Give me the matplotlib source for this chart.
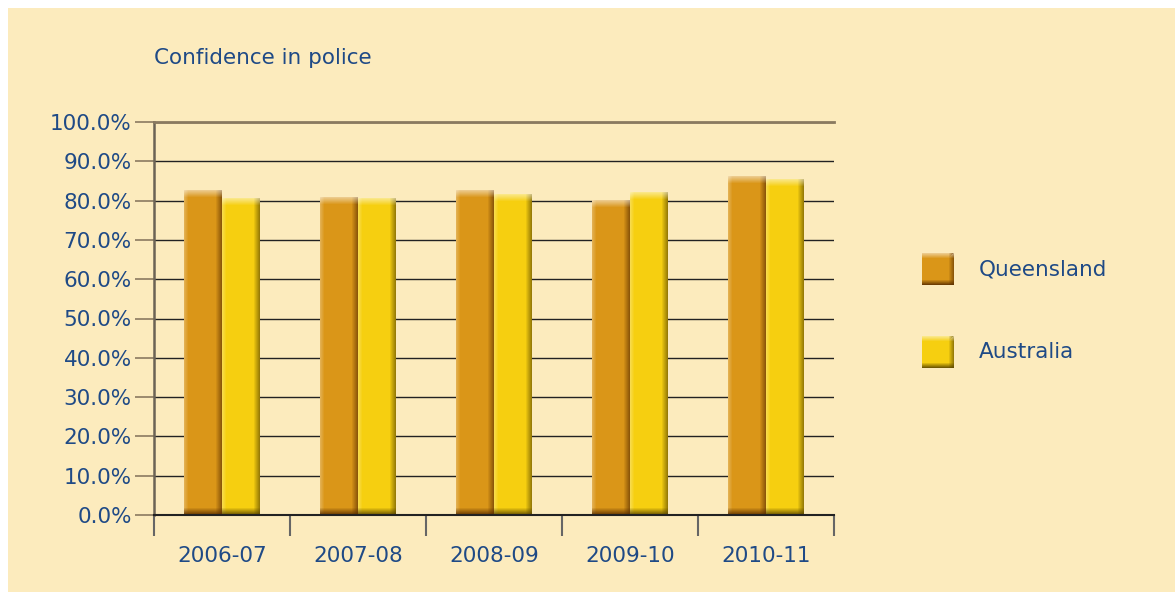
import numpy as np
import matplotlib.pyplot as plt
from matplotlib.patches import Rectangle

years = ["2006-07", "2007-08", "2008-09", "2009-10", "2010-11"]
queensland = [82.7, 80.9, 82.7, 80.2, 86.3]
australia = [80.6, 80.7, 81.8, 82.3, 85.6]

bg = "#FCEBBD"
text_col = "#1F4A86"
q_col = "#DA9618"
a_col = "#F6CF10"
q_dark = "#5A2E00"
a_dark = "#5A4600"

plt.rcParams['font.family'] = ['DejaVu Sans']

fig = plt.figure(figsize=(11.75, 5.92), dpi=100, facecolor="white")
fig.patches.append(Rectangle((8 / 1175, 0), 1, 1 - 8 / 592, transform=fig.transFigure,
                             facecolor=bg, edgecolor="none", zorder=-10))
ax = fig.add_axes([154 / 1175, 1 - 515 / 592, 680 / 1175, 393 / 592])
ax.set_facecolor(bg)

x = np.arange(len(years))
w = 38 / 136
px = 1 / 136          # one pixel in x data units
py = 100 / 393        # one pixel in y data units


def bevel_bars(xpos, vals, col, dark):
    ax.bar(xpos, vals, w, color=col, zorder=3, linewidth=0)
    vals = np.array(vals)
    # right shade
    for k in range(6):
        ax.bar(xpos + w / 2 - (k + 0.5) * px, vals, px, color=dark,
               alpha=0.6 * (1 - k / 6), zorder=4, linewidth=0)
    # left highlight
    for k in range(4):
        ax.bar(xpos - w / 2 + (k + 0.5) * px, vals, px, color="white",
               alpha=0.25 * (1 - k / 4), zorder=4, linewidth=0)
    # top highlight
    for k in range(7):
        ax.bar(xpos, py, w, bottom=vals - (k + 1) * py, color="white",
               alpha=0.5 * (1 - k / 7), zorder=5, linewidth=0)
    # bottom shade
    for k in range(7):
        ax.bar(xpos, py, w, bottom=k * py, color=dark,
               alpha=0.85 * (1 - k / 7), zorder=5, linewidth=0)


bevel_bars(x - w / 2, queensland, q_col, q_dark)
bevel_bars(x + w / 2, australia, a_col, a_dark)

ax.set_xlim(-0.5, len(years) - 0.5)
ax.set_ylim(0, 100)
ax.set_yticks(np.arange(0, 101, 10))
ax.set_yticklabels([f"{v:.1f}%" for v in np.arange(0, 101, 10)], fontsize=15.5, color=text_col)
ax.yaxis.grid(True, color="#222222", linewidth=1.0, zorder=1)
ax.set_axisbelow(True)
ax.axhline(0, color="#222222", linewidth=1.5, zorder=6, clip_on=False)

ax.set_xticks(np.arange(-0.5, len(years), 1))
ax.set_xticklabels([])
ax.set_xticks(x, minor=True)
ax.set_xticklabels(years, minor=True, fontsize=15.5, color=text_col)
ax.tick_params(axis="x", which="major", length=15, width=1.5, color="#666666")
ax.tick_params(axis="x", which="minor", length=0, pad=22)
ax.tick_params(axis="y", length=14, width=1.2, color="#8a7a60", pad=2)

for s in ["right", "bottom"]:
    ax.spines[s].set_visible(False)
ax.spines["top"].set_color("#8a7a60")
ax.spines["top"].set_linewidth(2)
ax.spines["left"].set_color("#6b6355")
ax.spines["left"].set_linewidth(1.8)

fig.text(154 / 1175, 1 - 58 / 592, "Confidence in police", fontsize=15.5, color=text_col,
         ha="left", va="center")

# legend
for lab, col, dark, yc in [("Queensland", q_col, q_dark, 269), ("Australia", a_col, a_dark, 352)]:
    lax = fig.add_axes([922 / 1175, 1 - (yc + 16) / 592, 32 / 1175, 32 / 592])
    lax.set_xlim(0, 1)
    lax.set_ylim(0, 1)
    lax.axis("off")
    lax.bar(0.5, 1, 1, color=col, linewidth=0)
    for k in range(5):
        lax.bar(1 - (k + 0.5) / 32, 1, 1 / 32, color=dark, alpha=0.6 * (1 - k / 5), linewidth=0)
        lax.bar(0.5, 1 / 32, 1, bottom=k / 32, color=dark, alpha=0.85 * (1 - k / 5), linewidth=0)
        lax.bar(0.5, 1 / 32, 1, bottom=1 - (k + 1) / 32, color="white", alpha=0.5 * (1 - k / 5), linewidth=0)
    fig.text(979 / 1175, 1 - yc / 592, lab, fontsize=15.5, color=text_col, ha="left", va="center")

fig.savefig("out.png", dpi=100, facecolor="white")
